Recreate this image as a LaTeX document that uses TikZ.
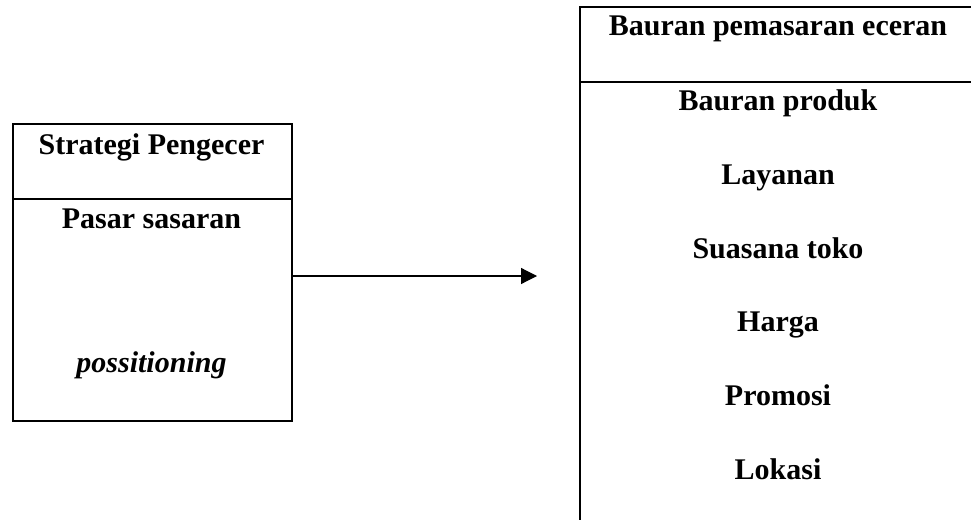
\documentclass[tikz,border=0pt]{standalone}
\usepackage{fontspec}
\setmainfont{Liberation Serif}
\usetikzlibrary{positioning}
\usetikzlibrary{arrows.meta}

\begin{document}
\begin{tikzpicture}[x=1pt,y=-1pt,
    cell/.style={draw,line width=1.8pt,anchor=north west,inner sep=0pt},
    lbl/.style={font=\fontsize{30}{36}\selectfont\bfseries,anchor=base,inner sep=0pt}]
  \useasboundingbox (0,0) rectangle (971,519);
  \clip (0,0) rectangle (971,519);
  % strategy box
  \node[cell,minimum width=279pt,minimum height=75pt] (strat) at (12,123) {};
  \node[cell,minimum width=279pt,minimum height=222pt] (stratbody) at (12,198) {};
  \node[lbl] (strathead) at (151.5,154) {Strategi Pengecer};
  \node[lbl] (pasar) at (151.5,228) {Pasar sasaran};
  \node[lbl,font=\fontsize{30}{36}\selectfont\bfseries\itshape] (posit) at (151.5,372) {possitioning};
  % retail mix box
  \node[cell,minimum width=400pt,minimum height=75pt] (mix) at (579,6) {};
  \node[cell,minimum width=400pt,minimum height=460pt] (mixbody) at (579,81) {};
  \node[lbl] (mixhead) at (778,36) {Bauran pemasaran eceran};
  \node[lbl] (produk) at (778,110) {Bauran produk};
  \node[lbl] (layanan) at (778,184) {Layanan};
  \node[lbl] (suasana) at (778,258) {Suasana toko};
  \node[lbl] (harga) at (778,331) {Harga};
  \node[lbl] (promosi) at (778,405) {Promosi};
  \node[lbl] (lokasi) at (778,479) {Lokasi};
  % link
  \coordinate (tip) at (537,276);
  \draw[line width=1.2pt,-{Triangle[length=16pt,width=16pt]}] (stratbody.east |- tip) -- (tip);
\end{tikzpicture}
\end{document}
